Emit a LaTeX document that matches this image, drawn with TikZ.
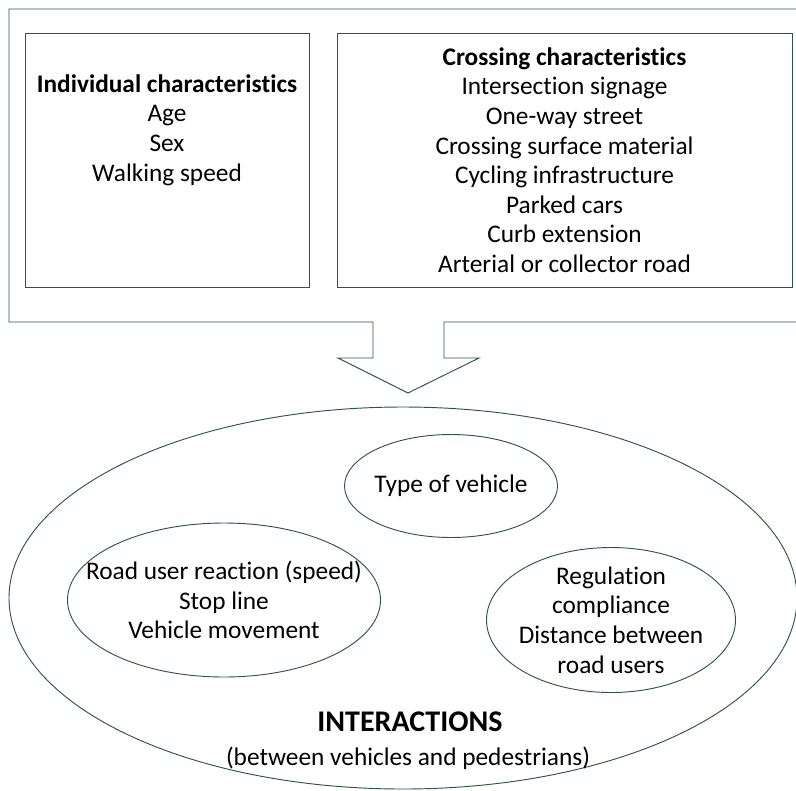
\documentclass[tikz,border=0pt]{standalone}
\usepackage{fontspec}
\setmainfont[Ligatures=NoCommon]{Carlito}
\usepackage{tikz}
\usetikzlibrary{shapes, positioning, calc}
\definecolor{framegreen}{RGB}{44,88,58}

\begin{document}
\begin{tikzpicture}[x=0.75pt, y=-0.75pt,
    factorbox/.style={rectangle,
      draw=framegreen,
      line width=0.7pt,
      inner sep=0pt},
    ring/.style={ellipse,
      draw=framegreen,
      line width=0.7pt,
      inner sep=0pt},
    itemtext/.style={align=center,
      inner sep=0pt,
      font=\fontsize{19}{22.2}\selectfont}]
  \useasboundingbox (0,0) rectangle (796,790);
  \clip (0,0) rectangle (796,790);

  % CALLOUT

  \draw[framegreen, line width=0.7pt]
    (9,9) -- (820,9) -- (820,322) -- (444,322) -- (444,358)
    -- (479,358) -- (408,393) -- (338,358) -- (373,358)
    -- (373,322) -- (9,322) -- cycle;

  % CHARACTERISTICS

  \node[factorbox, minimum width=213pt, minimum height=190.5pt] (indbox) at (167,160) {};
  \node[itemtext] (indtext) at (167,130) {
    \textbf{Individual characteristics}\\
    Age\\
    Sex\\
    Walking speed
  };

  \node[factorbox, minimum width=341.25pt, minimum height=190.5pt] (crossbox) at (564.5,160) {};
  \node[itemtext] (crosstext) at (crossbox.center) {
    \textbf{Crossing characteristics}\\
    Intersection signage\\
    One-way street\\
    Crossing surface material\\
    Cycling infrastructure\\
    Parked cars\\
    Curb extension\\
    Arterial or collector road
  };

  % INTERACTIONS

  \node[ring, minimum width=591pt, minimum height=286.5pt] (interactions) at (403,598) {};

  \node[ring, minimum width=159.75pt, minimum height=77.25pt] (vehicle) at (451,486) {};
  \node[itemtext] (vehicletext) at (vehicle.center) {Type of vehicle};

  \node[ring, minimum width=234.75pt, minimum height=115.5pt] (reaction) at (224,600) {};
  \node[itemtext] (reactiontext) at (reaction.center) {
    Road user reaction (speed)\\
    Stop line\\
    Vehicle movement
  };

  \node[ring, minimum width=186.75pt, minimum height=108.75pt] (compliance) at (611,620) {};
  \node[itemtext] (compliancetext) at (compliance.center) {
    Regulation\\
    compliance\\
    Distance between\\
    road users
  };

  \node[itemtext, font=\fontsize{22.5}{26}\selectfont\bfseries] (intertitle) at (410,722) {INTERACTIONS};
  \node[itemtext] (intersub) at (408,758) {(between vehicles and pedestrians)};

\end{tikzpicture}
\end{document}
